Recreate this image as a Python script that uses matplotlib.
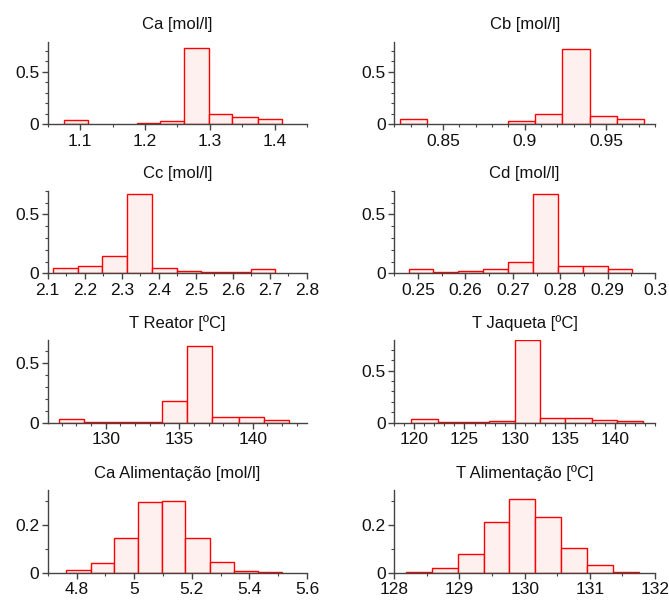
import numpy as np
import matplotlib
matplotlib.use('Agg')
import matplotlib.pyplot as plt
from matplotlib.ticker import MultipleLocator

plt.rcParams['font.family'] = ['Liberation Sans', 'DejaVu Sans']

# titles of the eight panels
titles = ['Ca [mol/l]', 'Cb [mol/l]', 'Cc [mol/l]', 'Cd [mol/l]',
          'T Reator [ºC]', 'T Jaqueta [ºC]',
          'Ca Alimentação [mol/l]', 'T Alimentação [ºC]']

# bin edges
ca_edges = [1.075, 1.1125, 1.150, 1.187, 1.224, 1.261, 1.2985, 1.335, 1.374, 1.4115]
cb_edges = [0.8236, 0.8402, 0.8568, 0.8734, 0.8900, 0.9066, 0.9232, 0.9398, 0.9564, 0.9730]
cc_edges = [2.1153, 2.181, 2.247, 2.314, 2.381, 2.4486, 2.515, 2.581, 2.648, 2.7144]
cd_edges = [0.2480, 0.2532, 0.2584, 0.2637, 0.2689, 0.2742, 0.2795, 0.2849, 0.2900, 0.2952]
tr_edges = [126.8, 128.55, 130.3, 132.05, 133.8, 135.5, 137.23, 139.05, 140.77, 142.5]
tj_edges = [119.67, 122.33, 124.9, 127.4, 130.0, 132.5, 135.0, 137.67, 140.2, 142.8]
caf_edges = [4.7636, 4.849, 4.931, 5.0127, 5.097, 5.178, 5.263, 5.346, 5.43, 5.513]
tf_edges = [128.18, 128.58, 128.97, 129.37, 129.76, 130.16, 130.56, 130.95, 131.35, 131.75]

# relative frequencies
ca_freq = [0.04, 0.0, 0.0, 0.012, 0.03, 0.728, 0.092, 0.063, 0.046]
cb_freq = [0.044, 0.0, 0.0, 0.0, 0.025, 0.10, 0.72, 0.073, 0.048]
cc_freq = [0.046, 0.06, 0.146, 0.676, 0.041, 0.016, 0.007, 0.007, 0.038]
cd_freq = [0.033, 0.008, 0.016, 0.039, 0.10, 0.67, 0.058, 0.058, 0.039]
tr_freq = [0.034, 0.007, 0.007, 0.007, 0.185, 0.643, 0.045, 0.045, 0.022]
tj_freq = [0.038, 0.01, 0.01, 0.019, 0.79, 0.045, 0.045, 0.028, 0.019]
caf_freq = [0.0098, 0.042, 0.148, 0.298, 0.302, 0.148, 0.046, 0.0084, 0.004]
tf_freq = [0.004, 0.021, 0.08, 0.215, 0.309, 0.236, 0.103, 0.031, 0.004]

edges_all = [ca_edges, cb_edges, cc_edges, cd_edges, tr_edges, tj_edges, caf_edges, tf_edges]
freq_all = [ca_freq, cb_freq, cc_freq, cd_freq, tr_freq, tj_freq, caf_freq, tf_freq]

# axis settings: xlim, ylim top, x major, x minor, y major
xlims = [(1.05, 1.45), (0.82, 0.98), (2.1, 2.8), (0.245, 0.3),
         (126.05, 143.7), (118, 144), (4.7, 5.6), (128, 132)]
ytops = [0.79, 0.79, 0.70, 0.70, 0.69, 0.79, 0.347, 0.347]
xmaj = [0.1, 0.05, 0.1, 0.01, 5, 5, 0.2, 1]
xmin = [0.05, 0.01, 0.05, 0.005, 1, 1, 0.1, 0.5]
ymaj = [0.5, 0.5, 0.5, 0.5, 0.5, 0.5, 0.2, 0.2]

fig = plt.figure(figsize=(6.69, 6.02), dpi=100)

lefts = [0.0713, 0.5894]
widths = [0.3876, 0.3897]
bottoms = [0.794, 0.546, 0.2978, 0.0487]
height = 0.137

fmt = plt.FuncFormatter(lambda v, p: '%g' % round(v, 6))

for i in range(8):
    row, col = divmod(i, 2)
    ax = fig.add_axes([lefts[col], bottoms[row], widths[col], height])
    e = np.array(edges_all[i])
    f = np.array(freq_all[i])
    w = np.diff(e)
    keep = f > 0
    ax.bar(e[:-1][keep], f[keep], width=w[keep], align='edge',
           color='#fff0f0', edgecolor='red', linewidth=1.0)
    ax.set_xlim(*xlims[i])
    ax.set_ylim(0, ytops[i])
    ax.xaxis.set_major_locator(MultipleLocator(xmaj[i]))
    ax.xaxis.set_minor_locator(MultipleLocator(xmin[i]))
    ax.yaxis.set_major_locator(MultipleLocator(ymaj[i]))
    ax.yaxis.set_minor_locator(MultipleLocator(0.1))
    ax.xaxis.set_major_formatter(fmt)
    ax.yaxis.set_major_formatter(fmt)
    for s in ['top', 'right']:
        ax.spines[s].set_visible(False)
    for s in ['left', 'bottom']:
        ax.spines[s].set_color('#444444')
        ax.spines[s].set_linewidth(1.0)
    ax.tick_params(which='major', direction='out', length=4, width=1, color='#444444')
    ax.tick_params(which='minor', direction='out', length=2.2, width=0.8, color='#444444')
    ax.tick_params(axis='x', labelsize=12.5, pad=3, labelcolor='#111111')
    ax.tick_params(axis='y', labelsize=12.5, pad=2, labelcolor='#111111')
    ax.set_title(titles[i], fontsize=12, pad=9, color='#111111')

fig.savefig('out.png', dpi=100)
